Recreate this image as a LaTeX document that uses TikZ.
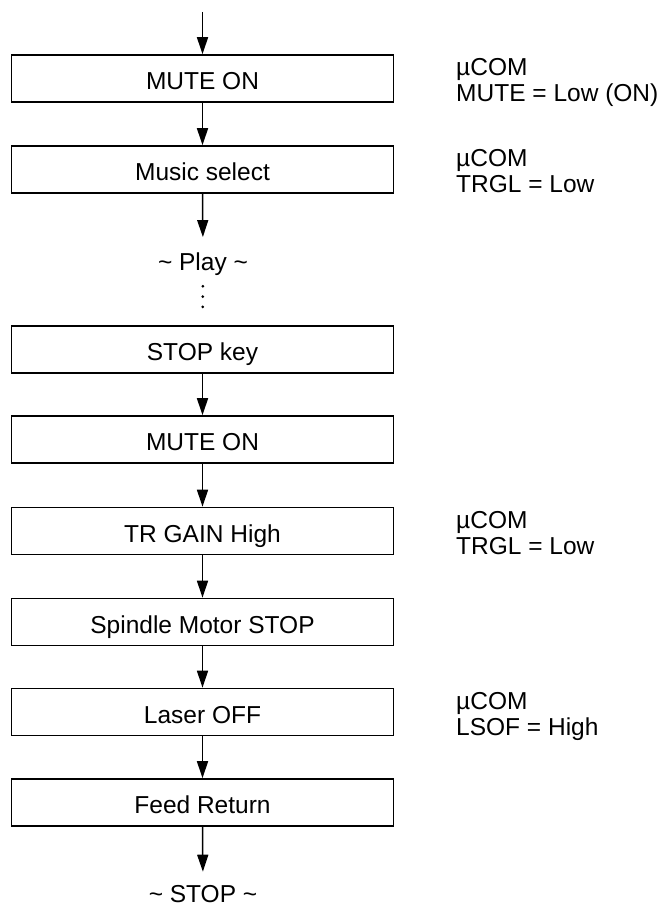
\documentclass[tikz,border=0pt]{standalone}
\usepackage{fontspec}
\setmainfont{Liberation Sans}
\usetikzlibrary{arrows.meta}
\begin{document}
\begin{tikzpicture}[x=1pt,y=-1pt,
  every node/.style={font=\fontsize{24.5}{26}\selectfont},
  stepbox/.style={draw,line width=1.6pt,minimum width=382pt,minimum height=47pt,inner sep=0pt,text height=22pt,text depth=0pt},
  flow/.style={line width=1.5pt,-{Triangle[length=17pt,width=11pt]}},
  note/.style={anchor=base west,inner sep=0pt},
  term/.style={inner sep=0pt,anchor=base},
  dots/.style={line width=3pt,line cap=round,dash pattern=on 0pt off 10.3pt}]
\useasboundingbox (0,0) rectangle (664,907);
\coordinate (start) at (202.5,12);
\node[stepbox] (b1) at (202.5,78.5) {MUTE ON};
\node[stepbox] (b2) at (202.5,169.5) {Music select};
\node[term] (play) at (203,270) {\textasciitilde\ Play \textasciitilde};
\node[stepbox] (b3) at (202.5,349.5) {STOP key};
\node[stepbox] (b4) at (202.5,439.5) {MUTE ON};
\node[stepbox] (b5) at (202.5,531) {TR GAIN High};
\node[stepbox] (b6) at (202.5,622) {Spindle Motor STOP};
\node[stepbox] (b7) at (202.5,712) {Laser OFF};
\node[stepbox] (b8) at (202.5,802.5) {Feed Return};
\node[term] (stop) at (203,902) {\textasciitilde\ STOP \textasciitilde};

\node[note] (n1) at (456,75.5) {\begin{tabular}[t]{@{}l@{}}µCOM\\ MUTE = Low (ON)\end{tabular}};
\node[note] (n2) at (456,166.5) {\begin{tabular}[t]{@{}l@{}}µCOM\\ TRGL = Low\end{tabular}};
\node[note] (n5) at (456,528) {\begin{tabular}[t]{@{}l@{}}µCOM\\ TRGL = Low\end{tabular}};
\node[note] (n7) at (456,709) {\begin{tabular}[t]{@{}l@{}}µCOM\\ LSOF = High\end{tabular}};

\draw[flow] (start) -- (b1.north);
\draw[flow] (b1.south) -- (b2.north);
\draw[flow,shorten >=15pt] (b2.south) -- (play.north);
\draw[dots,shorten <=11pt,shorten >=9pt] (play.south) -- (b3.north);
\draw[flow] (b3.south) -- (b4.north);
\draw[flow] (b4.south) -- (b5.north);
\draw[flow] (b5.south) -- (b6.north);
\draw[flow] (b6.south) -- (b7.north);
\draw[flow] (b7.south) -- (b8.north);
\draw[flow,shorten >=13pt] (b8.south) -- (stop.north);
\end{tikzpicture}
\end{document}
